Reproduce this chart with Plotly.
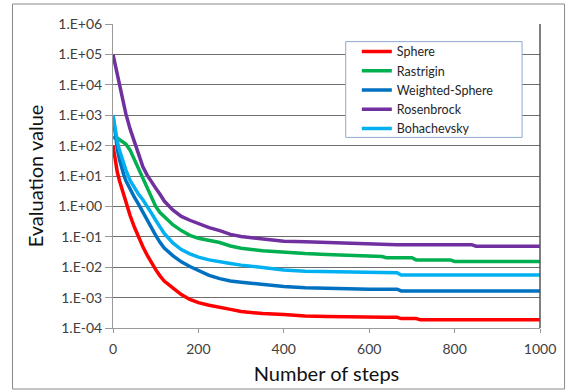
import plotly.graph_objects as go

steps = [0, 5, 10, 15, 20, 25, 30, 40, 50, 60, 70, 80, 90, 100, 110, 120, 140, 160, 180, 200,
         225, 250, 275, 300, 350, 400, 450, 500, 550, 600, 630, 640, 665, 675, 700, 710, 720,
         750, 790, 800, 840, 850, 900, 950, 1000]

sphere = [100, 32, 13.5, 7.1, 4.0, 2.5, 1.5, 0.5, 0.21, 0.093, 0.047, 0.025, 0.014, 0.0083,
          0.0052, 0.0035, 0.0021, 0.00126, 0.00087, 0.00068, 0.00056, 0.00049, 0.00041, 0.00035,
          0.00030, 0.00028, 0.00025, 0.00024, 0.00023, 0.000224, 0.000224, 0.000224, 0.000224,
          0.000204, 0.000204, 0.000204, 0.000186, 0.000186, 0.000186, 0.000186, 0.000186,
          0.000186, 0.000186, 0.000186, 0.000186]

rastrigin = [178, 186, 178, 158, 141, 126, 112, 71, 35, 16, 7.6, 4.0, 2.0, 1.0, 0.63, 0.45,
             0.25, 0.16, 0.112, 0.089, 0.076, 0.065, 0.05, 0.042, 0.035, 0.031, 0.028, 0.026,
             0.024, 0.0224, 0.0224, 0.0204, 0.0204, 0.0204, 0.0204, 0.0174, 0.0174, 0.0174,
             0.0174, 0.0155, 0.0155, 0.0155, 0.0155, 0.0155, 0.0155]

weighted_sphere = [1000, 250, 79, 35, 18, 11.2, 7.1, 3.5, 2.0, 1.17, 0.63, 0.35, 0.2, 0.112,
                   0.066, 0.043, 0.024, 0.015, 0.0105, 0.0079, 0.0054, 0.0042, 0.0035, 0.0032,
                   0.0027, 0.0023, 0.0021, 0.0020, 0.00195, 0.0019, 0.0019, 0.0019, 0.0019,
                   0.00166, 0.00166, 0.00166, 0.00166, 0.00166, 0.00166, 0.00166, 0.00166,
                   0.00166, 0.00166, 0.00166, 0.00166]

rosenbrock = [1e5, 46800, 22400, 11200, 5250, 2500, 1120, 355, 132, 50, 20, 10.7, 6.3, 4.0,
              2.5, 1.5, 0.76, 0.47, 0.35, 0.27, 0.2, 0.16, 0.12, 0.102, 0.085, 0.072, 0.069,
              0.065, 0.06, 0.056, 0.055, 0.055, 0.055, 0.055, 0.055, 0.055, 0.055, 0.055, 0.055,
              0.055, 0.055, 0.049, 0.049, 0.049, 0.049]

bohachevsky = [1000, 316, 141, 71, 40, 25, 16, 7.1, 4.0, 2.5, 1.66, 1.05, 0.6, 0.35, 0.21,
               0.13, 0.063, 0.038, 0.0275, 0.0214, 0.0174, 0.0148, 0.0132, 0.0117, 0.0095,
               0.0081, 0.0074, 0.0071, 0.0068, 0.0066, 0.0066, 0.0066, 0.0066, 0.0055, 0.0055,
               0.0055, 0.0055, 0.0055, 0.0055, 0.0055, 0.0055, 0.0055, 0.0055, 0.0055, 0.0055]

series_names = ["Sphere", "Rastrigin", "Weighted-Sphere", "Rosenbrock", "Bohachevsky"]
series_values = [sphere, rastrigin, weighted_sphere, rosenbrock, bohachevsky]
colors = ["#FF0000", "#00B050", "#0070C0", "#7030A0", "#00B0F0"]

y_tickvals = [1e-4, 1e-3, 1e-2, 1e-1, 1e0, 1e1, 1e2, 1e3, 1e4, 1e5, 1e6]
y_ticktext = ["1.E-04", "1.E-03", "1.E-02", "1.E-01", "1.E+00", "1.E+01", "1.E+02",
              "1.E+03", "1.E+04", "1.E+05", "1.E+06"]
x_tickvals = [0, 200, 400, 600, 800, 1000]

FONT = "Lato, 'Open Sans', sans-serif"

fig = go.Figure()
for name, vals, col in zip(series_names, series_values, colors):
    fig.add_trace(go.Scatter(x=steps, y=vals, name=name, mode="lines",
                             line=dict(color=col, width=3.5)))

fig.update_layout(
    width=569, height=391,
    margin=dict(l=113, r=29, t=24, b=63, autoexpand=False),
    paper_bgcolor="white", plot_bgcolor="white",
    font=dict(family=FONT, size=14, color="#404040"),
    showlegend=True,
    legend=dict(x=0.571, y=0.958, xanchor="left", yanchor="top",
                bgcolor="rgba(0,0,0,0)", borderwidth=0,
                font=dict(family=FONT, size=12.5, color="#262626"),
                tracegroupgap=0),
)

fig.update_xaxes(
    range=[0, 1000], tickvals=x_tickvals, showgrid=False, zeroline=False,
    showline=True, linecolor="#9a9a9a", linewidth=1, automargin=False,
    ticks="outside", ticklen=4, tickcolor="#9a9a9a",
    ticklabelstandoff=4, tickfont=dict(size=14),
    title=dict(text="Number of steps", font=dict(family=FONT, size=20, color="#111111"),
               standoff=11),
)
fig.update_yaxes(
    type="log", range=[-4, 6], tickvals=y_tickvals, ticktext=y_ticktext,
    showgrid=True, gridcolor="#6e6e6e", gridwidth=1, zeroline=False,
    showline=True, linecolor="#9a9a9a", linewidth=1, automargin=False,
    ticks="outside", ticklen=7, tickcolor="#9a9a9a", tickfont=dict(size=14),
    title=dict(text="Evaluation value", font=dict(family=FONT, size=20, color="#111111"),
               standoff=9),
)

# plot-area right border
fig.add_shape(type="line", xref="paper", yref="paper", x0=1, x1=1, y0=0, y1=1,
              line=dict(color="#555555", width=1.5))
# legend box
fig.add_shape(type="rect", xref="paper", yref="paper", x0=0.545, x1=0.958, y0=0.627, y1=0.942,
              line=dict(color="#8EA9D2", width=1), fillcolor="white", layer="above")
# outer chart border
fig.add_shape(type="rect", xref="paper", yref="paper", x0=-0.2353, x1=1.0575, y0=-0.2007, y1=1.0658,
              line=dict(color="#8a8a8a", width=1))

fig.write_html("out.html", config={"displayModeBar": False},
               post_script="document.body.style.margin='0';document.body.style.overflow='hidden';")
